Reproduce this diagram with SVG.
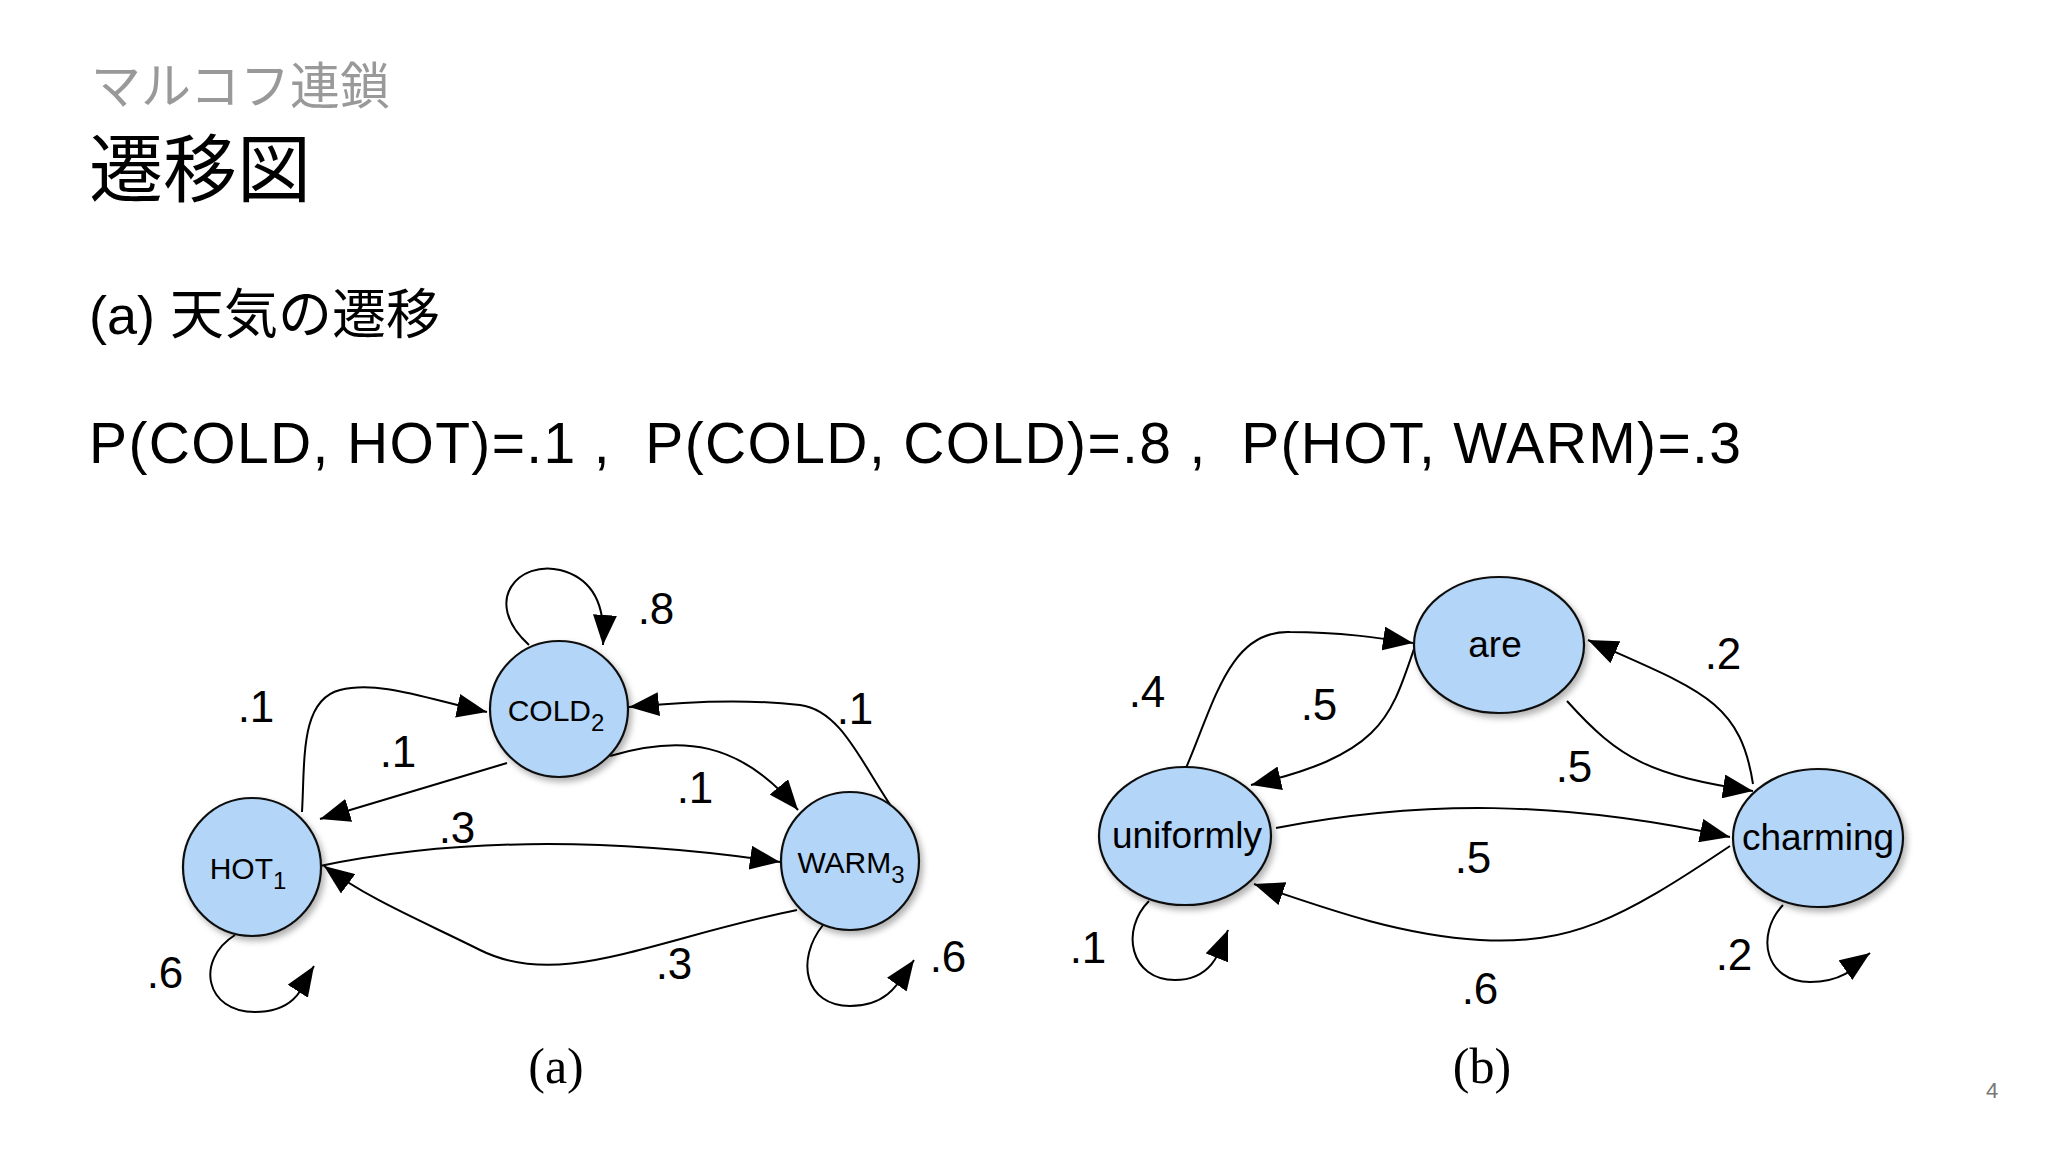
<svg xmlns="http://www.w3.org/2000/svg" width="2048" height="1152" viewBox="0 0 2048 1152">
<defs>
<marker id="ah" viewBox="0 0 30 24" refX="30" refY="12" markerWidth="30" markerHeight="24" markerUnits="userSpaceOnUse" orient="auto"><path d="M0,0 L30,12 L0,24 Z" fill="#000"/></marker>
<filter id="sh" x="-20%" y="-20%" width="150%" height="150%"><feDropShadow dx="3" dy="4" stdDeviation="3" flood-color="#000" flood-opacity="0.3"/></filter>
</defs>
<style>
.n{fill:#b3d5f7;stroke:#111;stroke-width:2.2;filter:url(#sh)}
.e{fill:none;stroke:#000;stroke-width:2;marker-end:url(#ah)}
.nt{font-family:"Liberation Sans",Arial,sans-serif;font-size:30px;fill:#000;text-anchor:middle}
.bt{font-family:"Liberation Sans",Arial,sans-serif;font-size:37px;fill:#000;text-anchor:middle}
.lb{font-family:"Liberation Sans",Arial,sans-serif;font-size:44px;fill:#000;text-anchor:middle}
.cap{font-family:"Liberation Serif","Times New Roman",serif;font-size:50px;fill:#000;text-anchor:middle}
</style>
<rect width="2048" height="1152" fill="#fff"/>
<text x="91" y="104" font-family="'Noto Sans CJK JP',sans-serif" font-size="50" fill="#999">マルコフ連鎖</text>
<text x="89" y="196" font-family="'Noto Sans CJK JP',sans-serif" font-size="74" fill="#000">遷移図</text>
<text x="89" y="334" font-family="'Liberation Sans','Noto Sans CJK JP',sans-serif" font-size="54" fill="#000">(a) 天気の遷移</text>
<text x="89" y="463" font-family="'Liberation Sans',Arial,sans-serif" font-size="57" fill="#000" textLength="1652" xml:space="preserve">P(COLD, HOT)=.1 ,  P(COLD, COLD)=.8 ,  P(HOT, WARM)=.3</text>
<text x="1992" y="1098" font-family="'Liberation Sans',Arial,sans-serif" font-size="22" fill="#777" text-anchor="middle">4</text>

<g id="connectors">
<path class="e" d="M529,645 C480,600 520,560 560,570 C600,580 605,615 603,645"/>
<path class="e" d="M302,812 C305,760 300,700 340,690 C380,680 430,700 487,712"/>
<path class="e" d="M507,763 L320,819"/>
<path class="e" d="M610,756 C680,735 740,740 798,810"/>
<path class="e" d="M891,806 C860,760 840,710 800,705 C740,698 680,702 629,707"/>
<path class="e" d="M320,866 C470,835 630,840 780,862"/>
<path class="e" d="M797,910 C650,940 560,990 480,950 C420,920 370,900 324,866"/>
<path class="e" d="M235,935 C195,960 205,1012 255,1012 C300,1012 305,980 314,966"/>
<path class="e" d="M823,925 C795,960 805,1006 850,1006 C890,1006 900,980 914,960"/>
<path class="e" d="M1186,768 C1215,700 1230,630 1290,632 C1340,632 1380,638 1413,643"/>
<path class="e" d="M1414,649 C1390,720 1380,755 1251,785"/>
<path class="e" d="M1567,701 C1620,760 1650,775 1753,791"/>
<path class="e" d="M1753,784 C1740,700 1700,690 1588,640"/>
<path class="e" d="M1276,828 C1420,800 1560,800 1730,837"/>
<path class="e" d="M1730,846 C1620,920 1570,945 1480,940 C1400,935 1330,910 1254,884"/>
<path class="e" d="M1149,901 C1120,930 1130,980 1175,980 C1215,980 1222,945 1228,930"/>
<path class="e" d="M1783,905 C1755,935 1765,982 1810,982 C1850,982 1860,960 1870,953"/>
</g>

<g id="hot"><ellipse class="n" cx="252" cy="867" rx="69" ry="69"/><text class="nt" x="248" y="879">HOT<tspan font-size="24" dy="10">1</tspan></text></g>
<g id="cold"><ellipse class="n" cx="559" cy="709" rx="69" ry="68"/><text class="nt" x="556" y="721">COLD<tspan font-size="24" dy="10">2</tspan></text></g>
<g id="warm"><ellipse class="n" cx="850" cy="861" rx="69" ry="69"/><text class="nt" x="851" y="873">WARM<tspan font-size="24" dy="10">3</tspan></text></g>

<g id="are"><ellipse class="n" cx="1499" cy="645" rx="85" ry="68"/><text class="bt" x="1495" y="657">are</text></g>
<g id="uniformly"><ellipse class="n" cx="1185" cy="836" rx="86" ry="69"/><text class="bt" x="1187" y="848">uniformly</text></g>
<g id="charming"><ellipse class="n" cx="1818" cy="838" rx="85" ry="69"/><text class="bt" x="1818" y="850">charming</text></g>

<g id="labels">
<text class="lb" x="656" y="624">.8</text>
<text class="lb" x="256" y="722">.1</text>
<text class="lb" x="398" y="767">.1</text>
<text class="lb" x="695" y="803">.1</text>
<text class="lb" x="855" y="724">.1</text>
<text class="lb" x="457" y="843">.3</text>
<text class="lb" x="674" y="979">.3</text>
<text class="lb" x="165" y="988">.6</text>
<text class="lb" x="948" y="972">.6</text>
<text class="lb" x="1147" y="707">.4</text>
<text class="lb" x="1319" y="720">.5</text>
<text class="lb" x="1723" y="669">.2</text>
<text class="lb" x="1574" y="782">.5</text>
<text class="lb" x="1473" y="873">.5</text>
<text class="lb" x="1480" y="1004">.6</text>
<text class="lb" x="1088" y="963">.1</text>
<text class="lb" x="1734" y="970">.2</text>
<text class="cap" x="556" y="1083">(a)</text>
<text class="cap" x="1482" y="1083">(b)</text>
</g>
</svg>
